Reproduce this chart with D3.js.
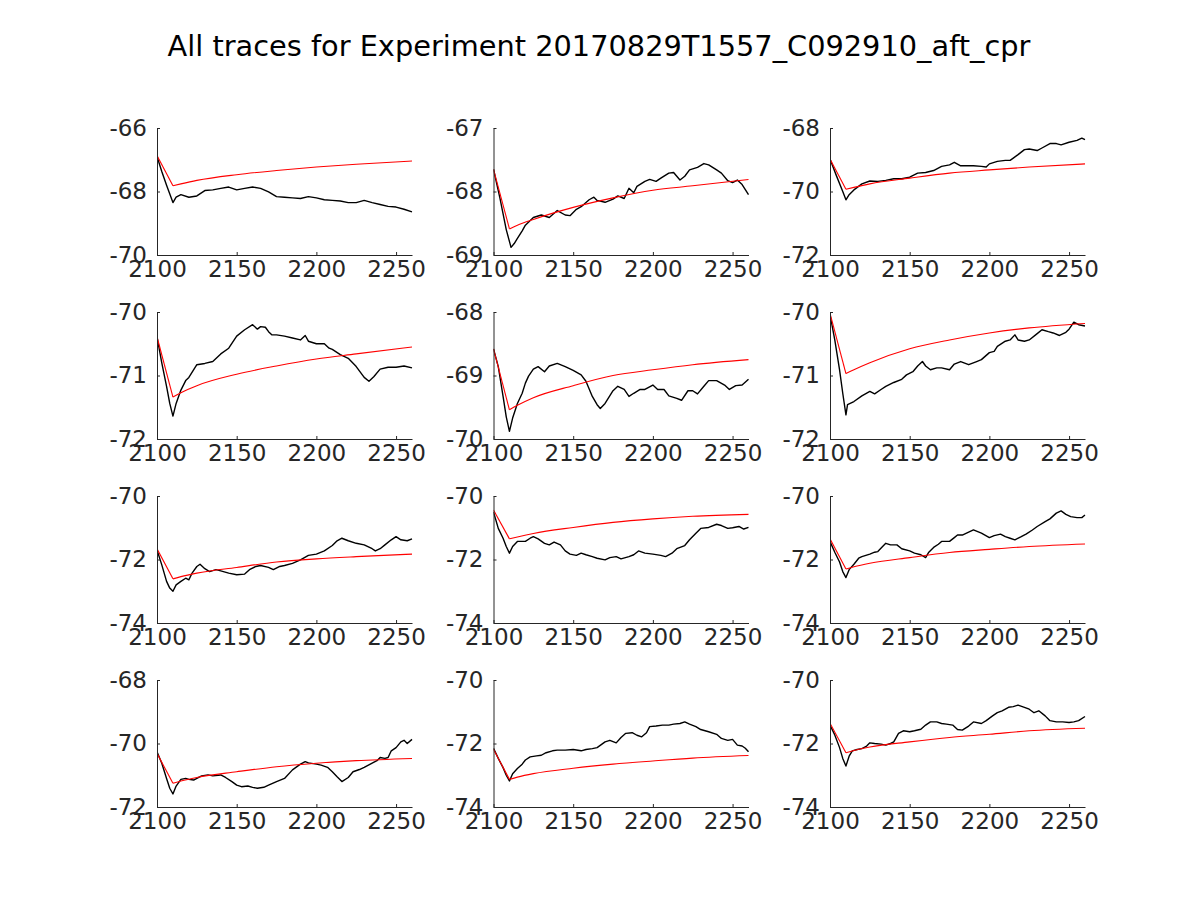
<!DOCTYPE html>
<html>
<head>
<meta charset="utf-8">
<script src="https://cdn.jsdelivr.net/npm/d3@7"></script>
<style>
  html, body { margin: 0; padding: 0; background: #fff; }
  svg { display: block; }
</style>
</head>
<body>
<svg id="chart" width="1200" height="900"></svg>
<script>
const titleText = "All traces for Experiment 20170829T1557_C092910_aft_cpr";
const xDomain = [2100, 2260];
const xTicks = [2100, 2150, 2200, 2250];

// y domains per panel (row-major order)
const yDomains = [
  [-70, -66], [-69, -67], [-72, -68],
  [-72, -70], [-70, -68], [-72, -70],
  [-74, -70], [-74, -70], [-74, -70],
  [-72, -68], [-74, -70], [-74, -70]
];

// fit curve sample times (shared) and fitted values per panel
const fitT = [2100, 2110, 2115, 2125, 2150, 2175, 2200, 2225, 2260];
const fit01 = [-66.87, -67.82, -67.76, -67.65, -67.47, -67.34, -67.23, -67.14, -67.04];
const fit02 = [-67.65, -68.59, -68.53, -68.44, -68.25, -68.10, -67.98, -67.91, -67.81];
const fit03 = [-68.98, -69.93, -69.87, -69.76, -69.58, -69.42, -69.32, -69.23, -69.13];
const fit04 = [-70.39, -71.34, -71.27, -71.16, -70.98, -70.85, -70.74, -70.66, -70.55];
const fit05 = [-68.58, -69.54, -69.47, -69.35, -69.16, -69.00, -68.91, -68.83, -68.75];
const fit06 = [-70.02, -70.97, -70.91, -70.80, -70.58, -70.44, -70.33, -70.25, -70.18];
const fit07 = [-71.66, -72.61, -72.54, -72.43, -72.25, -72.08, -71.98, -71.91, -71.83];
const fit08 = [-70.44, -71.35, -71.29, -71.18, -70.99, -70.83, -70.72, -70.64, -70.58];
const fit09 = [-71.35, -72.30, -72.23, -72.12, -71.94, -71.78, -71.68, -71.59, -71.51];
const fit10 = [-70.31, -71.25, -71.18, -71.07, -70.89, -70.73, -70.62, -70.54, -70.47];
const fit11 = [-72.18, -73.13, -73.06, -72.95, -72.78, -72.65, -72.55, -72.46, -72.38];
const fit12 = [-71.36, -72.29, -72.22, -72.11, -71.95, -71.81, -71.71, -71.60, -71.52];

// recorded traces: [time, value]
const trace01 = [[2100,-66.9],[2103,-67.37],[2106,-67.8],[2110,-68.35],[2112,-68.18],[2115,-68.1],[2120,-68.18],[2125,-68.14],[2130,-67.97],[2135,-67.95],[2140,-67.9],[2145,-67.86],[2150,-67.95],[2155,-67.9],[2160,-67.86],[2165,-67.9],[2170,-68.01],[2175,-68.16],[2180,-68.18],[2185,-68.2],[2190,-68.22],[2195,-68.16],[2200,-68.2],[2205,-68.26],[2210,-68.28],[2215,-68.3],[2220,-68.35],[2225,-68.35],[2230,-68.28],[2235,-68.35],[2240,-68.41],[2245,-68.47],[2250,-68.49],[2255,-68.56],[2260,-68.64]];
const trace02 = [[2100,-67.65],[2104,-68.1],[2108,-68.6],[2111,-68.88],[2113,-68.82],[2115,-68.74],[2118,-68.62],[2120,-68.53],[2125,-68.41],[2130,-68.37],[2135,-68.41],[2140,-68.3],[2145,-68.37],[2148,-68.38],[2152,-68.28],[2155,-68.24],[2160,-68.13],[2163,-68.09],[2165,-68.14],[2170,-68.17],[2175,-68.12],[2178,-68.07],[2182,-68.11],[2185,-67.95],[2188,-68.02],[2190,-67.92],[2195,-67.84],[2198,-67.81],[2202,-67.84],[2205,-67.79],[2210,-67.71],[2213,-67.7],[2215,-67.76],[2217,-67.82],[2220,-67.76],[2223,-67.66],[2228,-67.62],[2232,-67.56],[2235,-67.58],[2240,-67.66],[2243,-67.71],[2247,-67.83],[2250,-67.86],[2253,-67.82],[2256,-67.89],[2260,-68.05]];
const trace03 = [[2100,-68.98],[2104,-69.5],[2108,-70.0],[2110,-70.26],[2112,-70.1],[2115,-69.95],[2120,-69.76],[2125,-69.67],[2130,-69.68],[2135,-69.65],[2140,-69.6],[2145,-69.6],[2150,-69.55],[2155,-69.42],[2160,-69.4],[2165,-69.34],[2170,-69.21],[2175,-69.16],[2178,-69.08],[2182,-69.19],[2185,-69.19],[2190,-69.19],[2195,-69.21],[2198,-69.23],[2200,-69.13],[2205,-69.05],[2210,-69.02],[2213,-69.02],[2215,-68.95],[2218,-68.84],[2222,-68.68],[2225,-68.66],[2230,-68.71],[2233,-68.63],[2238,-68.49],[2242,-68.49],[2245,-68.53],[2250,-68.45],[2255,-68.39],[2258,-68.32],[2260,-68.37]];
const trace04 = [[2100,-70.39],[2103,-70.8],[2106,-71.17],[2108,-71.44],[2110,-71.64],[2112,-71.44],[2115,-71.23],[2118,-71.08],[2120,-71.03],[2125,-70.83],[2130,-70.81],[2135,-70.78],[2140,-70.66],[2145,-70.57],[2150,-70.38],[2155,-70.28],[2160,-70.2],[2163,-70.27],[2165,-70.23],[2168,-70.24],[2170,-70.31],[2172,-70.36],[2175,-70.36],[2180,-70.38],[2185,-70.41],[2190,-70.44],[2193,-70.37],[2195,-70.46],[2200,-70.5],[2205,-70.5],[2208,-70.57],[2210,-70.59],[2215,-70.67],[2220,-70.73],[2225,-70.86],[2230,-71.03],[2233,-71.09],[2236,-71.02],[2240,-70.9],[2245,-70.87],[2250,-70.87],[2255,-70.85],[2260,-70.88]];
const trace05 = [[2100,-68.58],[2103,-68.86],[2106,-69.33],[2108,-69.65],[2110,-69.88],[2112,-69.67],[2115,-69.44],[2118,-69.28],[2120,-69.12],[2122,-69.01],[2125,-68.9],[2128,-68.86],[2132,-68.94],[2135,-68.85],[2140,-68.81],[2145,-68.86],[2150,-68.92],[2155,-68.99],[2158,-69.09],[2162,-69.33],[2165,-69.46],[2167,-69.52],[2170,-69.44],[2175,-69.24],[2178,-69.17],[2182,-69.22],[2185,-69.33],[2188,-69.28],[2192,-69.22],[2195,-69.22],[2200,-69.15],[2203,-69.22],[2207,-69.22],[2210,-69.32],[2215,-69.36],[2218,-69.39],[2222,-69.24],[2225,-69.24],[2228,-69.29],[2232,-69.17],[2235,-69.08],[2240,-69.08],[2245,-69.15],[2248,-69.22],[2252,-69.16],[2256,-69.15],[2260,-69.06]];
const trace06 = [[2100,-70.04],[2103,-70.44],[2106,-70.91],[2108,-71.28],[2110,-71.62],[2111,-71.46],[2115,-71.41],[2120,-71.32],[2125,-71.25],[2128,-71.29],[2132,-71.22],[2135,-71.17],[2140,-71.11],[2145,-71.06],[2148,-70.99],[2152,-70.94],[2155,-70.85],[2158,-70.78],[2160,-70.85],[2163,-70.91],[2167,-70.88],[2170,-70.88],[2175,-70.91],[2178,-70.82],[2182,-70.78],[2187,-70.83],[2192,-70.78],[2195,-70.75],[2200,-70.64],[2203,-70.62],[2205,-70.54],[2210,-70.46],[2213,-70.44],[2216,-70.36],[2218,-70.44],[2222,-70.46],[2225,-70.44],[2230,-70.34],[2233,-70.28],[2237,-70.31],[2240,-70.33],[2244,-70.37],[2248,-70.32],[2250,-70.27],[2253,-70.16],[2256,-70.2],[2260,-70.22]];
const trace07 = [[2100,-71.7],[2103,-72.17],[2106,-72.69],[2108,-72.9],[2110,-73.0],[2112,-72.8],[2115,-72.69],[2118,-72.59],[2120,-72.64],[2122,-72.43],[2125,-72.22],[2127,-72.15],[2130,-72.29],[2133,-72.38],[2137,-72.32],[2140,-72.36],[2145,-72.43],[2150,-72.48],[2155,-72.46],[2158,-72.32],[2162,-72.22],[2165,-72.19],[2170,-72.25],[2173,-72.32],[2177,-72.22],[2180,-72.19],[2185,-72.12],[2190,-72.01],[2195,-71.87],[2200,-71.83],[2205,-71.73],[2210,-71.56],[2213,-71.41],[2216,-71.33],[2220,-71.41],[2225,-71.49],[2230,-71.54],[2235,-71.66],[2237,-71.73],[2240,-71.66],[2243,-71.54],[2247,-71.38],[2250,-71.28],[2253,-71.38],[2257,-71.41],[2260,-71.35]];
const trace08 = [[2100,-70.5],[2103,-71.02],[2106,-71.33],[2108,-71.59],[2110,-71.8],[2112,-71.59],[2115,-71.43],[2120,-71.43],[2123,-71.33],[2125,-71.28],[2128,-71.35],[2132,-71.49],[2135,-71.54],[2138,-71.45],[2142,-71.54],[2145,-71.73],[2148,-71.83],[2152,-71.87],[2155,-71.8],[2158,-71.85],[2162,-71.91],[2165,-71.96],[2170,-72.01],[2173,-71.94],[2177,-71.91],[2180,-71.98],[2185,-71.91],[2188,-71.85],[2191,-71.73],[2195,-71.8],[2200,-71.83],[2205,-71.87],[2208,-71.91],[2212,-71.8],[2215,-71.66],[2220,-71.56],[2223,-71.38],[2227,-71.17],[2230,-71.02],[2235,-70.99],[2240,-70.89],[2243,-70.93],[2247,-71.02],[2250,-71.0],[2254,-70.96],[2257,-71.04],[2260,-70.99]];
const trace09 = [[2100,-71.43],[2103,-71.77],[2106,-72.08],[2108,-72.38],[2110,-72.57],[2112,-72.32],[2115,-72.15],[2118,-71.96],[2120,-71.91],[2125,-71.83],[2128,-71.77],[2130,-71.75],[2133,-71.59],[2135,-71.49],[2138,-71.54],[2142,-71.54],[2145,-71.66],[2150,-71.73],[2153,-71.8],[2157,-71.85],[2160,-71.94],[2162,-71.77],[2165,-71.62],[2168,-71.52],[2170,-71.43],[2175,-71.43],[2178,-71.31],[2180,-71.23],[2183,-71.23],[2187,-71.14],[2190,-71.07],[2195,-71.17],[2200,-71.31],[2203,-71.25],[2207,-71.2],[2210,-71.28],[2213,-71.33],[2216,-71.38],[2220,-71.28],[2223,-71.2],[2227,-71.07],[2230,-70.96],[2235,-70.81],[2238,-70.72],[2242,-70.54],[2245,-70.47],[2248,-70.58],[2251,-70.65],[2255,-70.68],[2258,-70.68],[2260,-70.6]];
const trace10 = [[2100,-70.26],[2103,-70.62],[2106,-71.1],[2108,-71.41],[2110,-71.59],[2112,-71.34],[2115,-71.13],[2118,-71.1],[2120,-71.13],[2123,-71.15],[2125,-71.1],[2128,-71.02],[2132,-70.99],[2135,-71.02],[2140,-70.99],[2143,-71.07],[2147,-71.2],[2150,-71.31],[2153,-71.36],[2157,-71.34],[2160,-71.38],[2163,-71.41],[2167,-71.38],[2170,-71.31],[2175,-71.2],[2180,-71.1],[2185,-70.83],[2190,-70.65],[2193,-70.57],[2195,-70.61],[2200,-70.65],[2203,-70.68],[2207,-70.75],[2210,-70.89],[2213,-71.05],[2216,-71.2],[2220,-71.07],[2223,-70.89],[2227,-70.82],[2230,-70.75],[2235,-70.62],[2238,-70.54],[2240,-70.44],[2243,-70.47],[2245,-70.44],[2247,-70.23],[2250,-70.13],[2253,-69.95],[2255,-69.9],[2257,-70.0],[2260,-69.87]];
const trace11 = [[2100,-72.15],[2103,-72.47],[2106,-72.76],[2108,-73.0],[2110,-73.18],[2112,-72.95],[2115,-72.79],[2118,-72.65],[2120,-72.52],[2123,-72.42],[2127,-72.39],[2130,-72.37],[2133,-72.29],[2137,-72.23],[2140,-72.21],[2145,-72.21],[2150,-72.19],[2155,-72.23],[2158,-72.19],[2162,-72.16],[2165,-72.13],[2170,-71.95],[2173,-71.9],[2177,-71.98],[2180,-71.81],[2183,-71.68],[2187,-71.66],[2190,-71.74],[2193,-71.79],[2196,-71.66],[2198,-71.47],[2202,-71.45],[2206,-71.42],[2210,-71.42],[2213,-71.39],[2217,-71.37],[2220,-71.32],[2223,-71.39],[2227,-71.47],[2230,-71.56],[2235,-71.63],[2240,-71.71],[2243,-71.84],[2247,-71.9],[2250,-71.87],[2253,-72.05],[2256,-72.08],[2258,-72.15],[2260,-72.26]];
const trace12 = [[2100,-71.42],[2103,-71.73],[2106,-72.13],[2108,-72.47],[2110,-72.71],[2112,-72.4],[2114,-72.23],[2117,-72.19],[2120,-72.16],[2123,-72.08],[2125,-71.98],[2128,-72.0],[2132,-72.02],[2135,-72.05],[2138,-72.0],[2140,-71.95],[2143,-71.68],[2146,-71.6],[2150,-71.63],[2153,-71.6],[2157,-71.55],[2160,-71.42],[2163,-71.32],[2167,-71.32],[2170,-71.37],[2173,-71.39],[2177,-71.42],[2180,-71.56],[2183,-71.58],[2187,-71.45],[2190,-71.32],[2195,-71.37],[2198,-71.28],[2202,-71.13],[2205,-71.03],[2208,-70.97],[2212,-70.86],[2215,-70.84],[2218,-70.79],[2222,-70.86],[2225,-70.92],[2228,-71.03],[2231,-70.97],[2235,-71.13],[2238,-71.28],[2242,-71.32],[2246,-71.32],[2250,-71.34],[2253,-71.32],[2256,-71.28],[2260,-71.15]];

const fits = [fit01, fit02, fit03, fit04, fit05, fit06, fit07, fit08, fit09, fit10, fit11, fit12];
const traces = [trace01, trace02, trace03, trace04, trace05, trace06, trace07, trace08, trace09, trace10, trace11, trace12];

// ---- layout (MATLAB-like subplot grid) ----
const colLeft = [157, 493.5, 830];
const rowTop = [128, 312, 496, 680];
const panelW = 255;
const panelH = 127;
const axisColor = "#262626";
const fontSize = 23;

const svg = d3.select("#chart");
svg.append("rect").attr("width", 1200).attr("height", 900).attr("fill", "#fff");

svg.append("text")
  .attr("x", 599).attr("y", 56)
  .attr("text-anchor", "middle")
  .attr("font-family", "DejaVu Sans, sans-serif")
  .attr("font-size", 28.8)
  .attr("fill", "#000")
  .text(titleText);

for (let i = 0; i < 12; i++) {
  const r = Math.floor(i / 3), c = i % 3;
  const g = svg.append("g").attr("transform", `translate(${colLeft[c]},${rowTop[r]})`);
  const x = d3.scaleLinear().domain(xDomain).range([0, panelW]);
  const y = d3.scaleLinear().domain(yDomains[i]).range([panelH, 0]);
  const yd = yDomains[i];
  const yTicks = [yd[0], (yd[0] + yd[1]) / 2, yd[1]];

  const clipId = "clip" + i;
  g.append("clipPath").attr("id", clipId)
    .append("rect").attr("x", 0).attr("y", -2).attr("width", panelW + 1).attr("height", panelH + 4);

  const line = d3.line().x(d => x(d[0])).y(d => y(d[1])).curve(d3.curveLinear);
  const plot = g.append("g").attr("clip-path", `url(#${clipId})`);

  plot.append("path")
    .datum(traces[i])
    .attr("fill", "none")
    .attr("stroke", "#000")
    .attr("stroke-width", 1.4)
    .attr("stroke-linejoin", "round")
    .attr("d", line);

  const fitPts = fitT.map((t, k) => [t, fits[i][k]]);
  plot.append("path")
    .datum(fitPts.slice(0, 2))
    .attr("fill", "none").attr("stroke", "#ff0000").attr("stroke-width", 1.1)
    .attr("d", line);
  plot.append("path")
    .datum(fitPts.slice(1))
    .attr("fill", "none").attr("stroke", "#ff0000").attr("stroke-width", 1.1)
    .attr("d", d3.line().x(d => x(d[0])).y(d => y(d[1])).curve(d3.curveMonotoneX));

  const xAxis = d3.axisBottom(x).tickValues(xTicks).tickFormat(d3.format("d"))
    .tickSizeInner(-3).tickSizeOuter(0).tickPadding(6);
  const yAxis = d3.axisLeft(y).tickValues(yTicks).tickFormat(d3.format("d"))
    .tickSizeInner(-3).tickSizeOuter(0).tickPadding(10);

  const gx = g.append("g").attr("transform", `translate(0,${panelH})`).call(xAxis);
  const gy = g.append("g").call(yAxis);
  [gx, gy].forEach(a => {
    a.select(".domain").attr("stroke", axisColor).attr("stroke-width", 1);
    a.selectAll(".tick line").attr("stroke", axisColor);
    a.selectAll(".tick text").attr("font-size", fontSize).attr("fill", axisColor)
      .attr("font-family", "DejaVu Sans, sans-serif");
  });
  gy.selectAll(".tick text").text(d => d3.format("d")(d).replace("\u2212", "-"));
}
</script>
</body>
</html>
